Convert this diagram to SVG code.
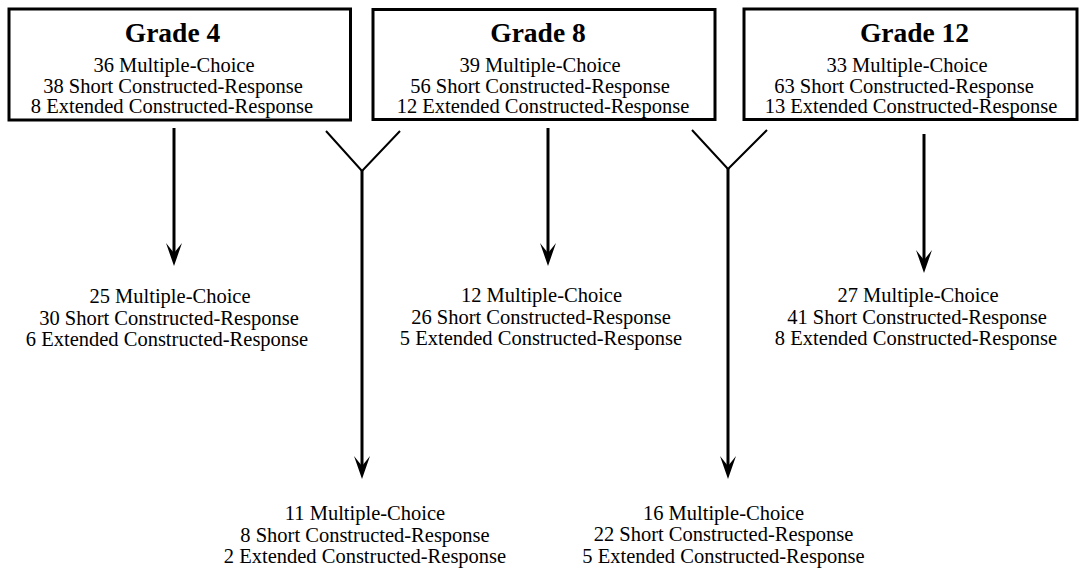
<svg xmlns="http://www.w3.org/2000/svg" width="1079" height="569" viewBox="0 0 1079 569">
<style>
.box{fill:#fff;stroke:#000;stroke-width:3}
.t{font-family:"Liberation Serif","Times New Roman",serif;font-size:20.5px;fill:#000;text-anchor:middle}
.h{font-family:"Liberation Serif","Times New Roman",serif;font-size:27.5px;font-weight:bold;fill:#000;text-anchor:middle}
.ln{fill:none;stroke:#000;stroke-width:3}
.arm{fill:none;stroke:#000;stroke-width:2}
</style>
<defs>
<marker id="ah" markerUnits="userSpaceOnUse" markerWidth="23" markerHeight="16" viewBox="0 0 23 16" refX="10" refY="8" orient="auto">
<path d="M0,0 L23,8 L0,16 L10,8 z" fill="#000"/>
</marker>
</defs>
<g id="grade4">
<rect class="box" x="9" y="9" width="341.5" height="111"/>
<text class="h" x="172.5" y="42">Grade 4</text>
<text class="t" x="174" y="72">36 Multiple-Choice</text>
<text class="t" x="173" y="92.5">38 Short Constructed-Response</text>
<text class="t" x="172" y="113">8 Extended Constructed-Response</text>
</g>
<g id="grade8">
<rect class="box" x="373" y="9.5" width="342" height="110"/>
<text class="h" x="538" y="42">Grade 8</text>
<text class="t" x="540" y="72">39 Multiple-Choice</text>
<text class="t" x="540" y="92.5">56 Short Constructed-Response</text>
<text class="t" x="543" y="113">12 Extended Constructed-Response</text>
</g>
<g id="grade12">
<rect class="box" x="744" y="9" width="333" height="110.5"/>
<text class="h" x="914.5" y="42">Grade 12</text>
<text class="t" x="907" y="72">33 Multiple-Choice</text>
<text class="t" x="904" y="92.5">63 Short Constructed-Response</text>
<text class="t" x="911" y="113">13 Extended Constructed-Response</text>
</g>
<g id="out4">
<text class="t" x="170" y="303">25 Multiple-Choice</text>
<text class="t" x="169" y="324.5">30 Short Constructed-Response</text>
<text class="t" x="167" y="346">6 Extended Constructed-Response</text>
</g>
<g id="out8">
<text class="t" x="541.5" y="302">12 Multiple-Choice</text>
<text class="t" x="541" y="323.5">26 Short Constructed-Response</text>
<text class="t" x="541" y="345">5 Extended Constructed-Response</text>
</g>
<g id="out12">
<text class="t" x="918" y="302">27 Multiple-Choice</text>
<text class="t" x="917" y="323.5">41 Short Constructed-Response</text>
<text class="t" x="916" y="345">8 Extended Constructed-Response</text>
</g>
<g id="out4-8">
<text class="t" x="365" y="520">11 Multiple-Choice</text>
<text class="t" x="365" y="541.5">8 Short Constructed-Response</text>
<text class="t" x="365" y="563">2 Extended Constructed-Response</text>
</g>
<g id="out8-12">
<text class="t" x="723.5" y="519.5">16 Multiple-Choice</text>
<text class="t" x="723.5" y="541">22 Short Constructed-Response</text>
<text class="t" x="723.5" y="562.5">5 Extended Constructed-Response</text>
</g>
<g id="connectors">
<line class="ln" x1="174" y1="128" x2="174" y2="253" marker-end="url(#ah)"/>
<line class="ln" x1="548" y1="128" x2="548" y2="253" marker-end="url(#ah)"/>
<line class="ln" x1="924" y1="134" x2="924" y2="260" marker-end="url(#ah)"/>
<polyline class="arm" points="326,131 362,171 400,131"/>
<line class="ln" x1="362" y1="170" x2="362" y2="466" marker-end="url(#ah)"/>
<polyline class="arm" points="692,130 728,169 767,130"/>
<line class="ln" x1="728" y1="168" x2="728" y2="466" marker-end="url(#ah)"/>
</g>
</svg>
